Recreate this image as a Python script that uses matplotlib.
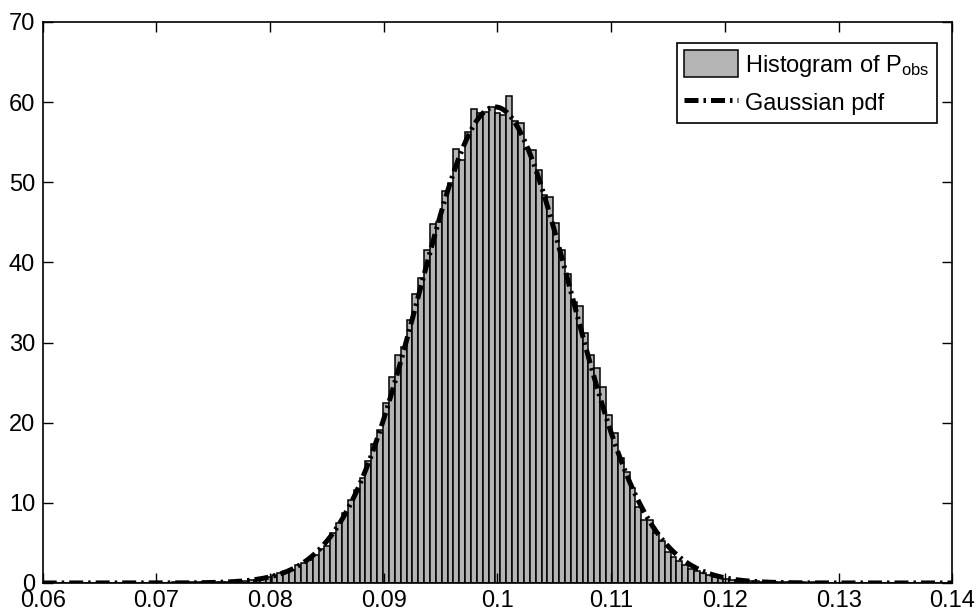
import numpy as np
import matplotlib
matplotlib.use("Agg")
import matplotlib.pyplot as plt
from matplotlib.ticker import FixedLocator

plt.rcParams['font.family'] = ['Liberation Sans', 'DejaVu Sans']
plt.rcParams['mathtext.default'] = 'regular'

# ---------------- data ----------------
x_min, x_max = 0.06, 0.14
bin_heights = [
    # left tail
    0.02, 0.03, 0.0, 0.02, 0.03, 0.02, 0.04, 0.03, 0.02, 0.03,
    0.04, 0.03, 0.05, 0.04, 0.03, 0.05, 0.06, 0.04, 0.05, 0.07,
    0.06, 0.05, 0.08, 0.07, 0.09, 0.08, 0.1, 0.12, 0.1, 0.14,
    0.15, 0.18, 0.2, 0.25, 0.3, 0.36, 0.42,
    # main body
    0.5, 0.7, 1.0, 1.3, 1.5, 1.6, 2.2, 2.5, 2.9, 3.5,
    4.3, 4.6, 6.2, 7.5, 8.7, 10.4, 11.6, 13.1, 15.2, 17.3,
    19.1, 22.4, 25.7, 28.4, 29.5, 32.8, 36.1, 38.0, 41.6, 44.8,
    45.1, 48.9, 49.9, 54.2, 52.8, 56.3, 59.1, 58.6, 58.8, 59.4,
    58.6, 58.4, 60.8, 57.6, 57.4, 54.2, 54.0, 51.5, 48.4, 48.2,
    44.9, 41.5, 38.5, 35.1, 34.5, 31.2, 28.4, 26.8, 24.5, 21.0,
    18.7, 15.6, 13.9, 11.8, 9.5, 7.9, 7.9, 6.2, 5.2, 3.9,
    3.3, 2.7, 2.2, 1.8, 1.5, 1.2, 1.0, 0.8, 0.65, 0.5,
    0.42, 0.35, 0.3, 0.25, 0.2, 0.16, 0.14, 0.12,
    # right tail
    0.1, 0.09, 0.08, 0.1, 0.07, 0.06, 0.08, 0.05, 0.06, 0.05,
    0.04, 0.06, 0.04, 0.03, 0.05, 0.03, 0.04, 0.02, 0.03, 0.04,
    0.02, 0.03, 0.02, 0.03, 0.02, 0.01, 0.02, 0.03, 0.02, 0.01,
]
gauss_mean = 0.0998
gauss_std = 0.006716

x_ticks = [0.06, 0.07, 0.08, 0.09, 0.10, 0.11, 0.12, 0.13, 0.14]
x_tick_labels = ["0.06", "0.07", "0.08", "0.09", "0.1", "0.11", "0.12", "0.13", "0.14"]
y_ticks = [0, 10, 20, 30, 40, 50, 60, 70]
legend_labels = ["Histogram of P$_{obs}$", "Gaussian pdf"]

# ---------------- figure ----------------
fig = plt.figure(figsize=(9.77, 6.16), dpi=100)
ax = fig.add_axes([0.0437, 0.0536, 0.9310, 0.9107])

edges = np.linspace(x_min, x_max, len(bin_heights) + 1)
bars = ax.bar(edges[:-1], bin_heights, width=np.diff(edges), align='edge',
              facecolor='#b4b4b4', edgecolor='black', linewidth=1.1)

xs = np.linspace(x_min, x_max, 800)
pdf = np.exp(-0.5 * ((xs - gauss_mean) / gauss_std) ** 2) / (gauss_std * np.sqrt(2 * np.pi))
line, = ax.plot(xs, pdf, color='black', linewidth=3.6,
                linestyle=(0, (2.8, 1.0, 0.5, 1.0)), dash_capstyle='butt')

ax.set_xlim(x_min, x_max)
ax.set_ylim(0, 70)
ax.xaxis.set_major_locator(FixedLocator(x_ticks))
ax.set_xticklabels(x_tick_labels)
ax.set_yticks(y_ticks)
ax.tick_params(direction='in', length=7, width=1.0, top=True, right=True,
               labelsize=17)
ax.tick_params(axis='x', pad=5)
ax.tick_params(axis='y', pad=5.5)
for s in ax.spines.values():
    s.set_linewidth(1.2)

leg = ax.legend([bars, line], legend_labels,
                loc='upper right', bbox_to_anchor=(0.9832, 0.962),
                borderaxespad=0, fontsize=17, handlelength=2.3,
                handleheight=1.35, handletextpad=0.3, labelspacing=0.45,
                borderpad=0.3, fancybox=False, framealpha=1)
leg.get_frame().set_edgecolor('black')
leg.get_frame().set_linewidth(1.2)

fig.savefig("out.png", dpi=100)
